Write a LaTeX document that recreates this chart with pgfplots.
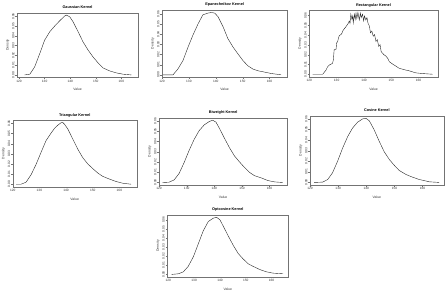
\documentclass[border=0pt]{standalone}
\usepackage{fontspec}
\setmainfont{Liberation Sans}
\usepackage{pgfplots}
\pgfplotsset{compat=1.18}

\pgfplotsset{
  kde/.style={
    scale only axis,
    axis line style={black!55, line width=0.3pt},
    tick style={black!55, line width=0.3pt},
    tick align=outside,
    major tick length=1.6pt,
    xtick pos=bottom, ytick pos=left,
    xtick={120,130,140,150,160},
    ytick={0,0.01,0.02,0.03,0.04,0.05,0.06},
    scaled y ticks=false,
    enlarge y limits=0.04,
    /pgf/number format/assume math mode=true,
    yticklabel style={/pgf/number format/.cd, fixed, fixed zerofill, precision=2, /tikz/.cd,
      rotate=90, anchor=south, font=\fontsize{3.2}{3.6}\selectfont, inner sep=0.8pt, text=black!80},
    xticklabel style={/pgf/number format/.cd, fixed, /tikz/.cd,
      font=\fontsize{3.2}{3.6}\selectfont, inner sep=0.8pt, text=black!80},
    xlabel=Value, ylabel=Density,
    label style={font=\fontsize{3.4}{4}\selectfont, text=black!80},
    xlabel style={at={(0.5,0)}, anchor=north, yshift=-7.5pt},
    ylabel style={inner sep=1.8pt},
    title style={at={(0.5,1)}, anchor=base, yshift=-2pt, font=\bfseries\fontsize{3.8}{4.4}\selectfont},
    cycle list={{black!85, line width=0.35pt}},
    no markers,
  },
}

\begin{document}
\begin{tikzpicture}
\path[use as bounding box] (0pt,0pt) rectangle (448pt,290pt);

% Gaussian kernel
\begin{axis}[kde, at={(17pt,212.7pt)}, anchor=south west, width=121pt, height=64.6pt,
  xmin=119.2, xmax=166.5, title={Gaussian Kernel}]
\addplot coordinates {
(122.2,0) (124.2,0.0007) (126.1,0.0082) (128.1,0.0219) (130.0,0.0356)
(132.0,0.0442) (133.9,0.0500) (135.9,0.0555) (137.8,0.0603) (138.5,0.0613)
(139.8,0.0596) (141.1,0.0545) (143.1,0.0442) (145.0,0.0339) (147.0,0.0254)
(148.9,0.0185) (150.9,0.0123) (152.8,0.0072) (155.4,0.0041) (158.0,0.0021)
(160.7,0.0007) (163.9,0)};
\end{axis}

% Epanechnikov kernel
\begin{axis}[kde, at={(162pt,212.7pt)}, anchor=south west, width=125.3pt, height=67.3pt,
  xmin=120, xmax=166.6, title={Epanechnikov Kernel}]
\addplot coordinates {
(120.4,0) (124.1,0) (125.9,0.0057) (127.8,0.0141) (129.7,0.0275)
(131.5,0.0392) (133.4,0.0503) (135.2,0.0593) (137.1,0.0610) (138.3,0.0616)
(139.6,0.0610) (140.8,0.0576) (142.7,0.0476) (144.5,0.0358) (146.4,0.0275)
(148.2,0.0208) (150.1,0.0141) (151.9,0.0090) (153.8,0.0057) (155.7,0.0040)
(158.1,0.0027) (160.6,0.0013) (164.3,0)};
\end{axis}

% Rectangular kernel
\begin{axis}[kde, at={(309.3pt,213.3pt)}, anchor=south west, width=128.4pt, height=66.7pt,
  xmin=120, xmax=167, title={Rectangular Kernel}]
\addplot coordinates {
(121.2,0) (124.9,0) (126.1,0.0042) (126.7,0.0076) (127.3,0.0094) (128.5,0.0111)
(128.8,0.0146) (129.1,0.0250) (129.8,0.0257) (130.0,0.0319) (130.4,0.0337)
(130.7,0.0371) (131.0,0.0396) (131.6,0.0406) (132.0,0.0423) (132.2,0.0441)
(132.8,0.0465) (133.4,0.0486) (134.0,0.0510) (134.4,0.0527) (134.6,0.0545)
(134.9,0.0521) (135.2,0.0614) (135.6,0.0562) (135.9,0.0597) (136.1,0.0527)
(136.5,0.0614) (136.8,0.0562) (137.1,0.0625) (137.4,0.0569) (137.8,0.0632)
(138.3,0.0555) (138.7,0.0625) (139.0,0.0579) (139.5,0.0614) (139.9,0.0545)
(140.2,0.0597) (140.7,0.0555) (141.1,0.0579) (141.5,0.0521) (142.0,0.0493)
(142.4,0.0423) (142.9,0.0441) (143.4,0.0389) (143.9,0.0406) (144.4,0.0337)
(144.9,0.0354) (145.4,0.0285) (145.9,0.0302) (146.3,0.0232) (146.8,0.0215)
(147.4,0.0198) (148.0,0.0187) (148.7,0.0163) (149.3,0.0128) (150.5,0.0104)
(151.7,0.0083) (153.0,0.0059) (154.1,0.0052) (155.4,0.0042) (156.6,0.0035)
(157.8,0.0024) (159.0,0.0014) (161.5,0.0007) (165.1,0)};
\end{axis}

% Triangular kernel
\begin{axis}[kde, at={(12.7pt,103.3pt)}, anchor=south west, width=124pt, height=66.7pt,
  xmin=120, xmax=166.5, title={Triangular Kernel}]
\addplot coordinates {
(121.25,0) (123.1,0) (125.0,0.0020) (126.9,0.0094) (128.75,0.0195)
(130.6,0.0313) (132.5,0.0431) (134.4,0.0506) (135.6,0.0549) (136.9,0.0583)
(138.1,0.0607) (138.75,0.0610) (139.4,0.0593) (140.6,0.0549) (142.5,0.0448)
(144.4,0.0347) (146.25,0.0263) (148.1,0.0202) (150.0,0.0155) (151.9,0.0111)
(153.75,0.0078) (156.25,0.0051) (158.75,0.0027) (161.25,0.0010) (164.4,0)};
\end{axis}

% Biweight kernel
\begin{axis}[kde, at={(159pt,105pt)}, anchor=south west, width=128.3pt, height=67.3pt,
  xmin=120, xmax=166.4, title={Biweight Kernel}]
\addplot coordinates {
(121.2,0) (123.6,0.0003) (125.5,0.0026) (127.3,0.0090) (129.1,0.0196)
(130.9,0.0315) (132.7,0.0421) (134.5,0.0507) (136.4,0.0565) (138.2,0.0597)
(139.4,0.0610) (140.6,0.0591) (141.8,0.0533) (143.6,0.0437) (145.5,0.0340)
(147.3,0.0260) (149.1,0.0202) (150.9,0.0148) (152.7,0.0100) (154.5,0.0067)
(157.0,0.0045) (159.4,0.0019) (161.8,0.0006) (164.8,0)};
\end{axis}

% Cosine kernel
\begin{axis}[kde, at={(310pt,105pt)}, anchor=south west, width=133.7pt, height=69.3pt,
  xmin=120, xmax=167.5, title={Cosine Kernel}]
\addplot coordinates {
(121.5,0) (124.5,0.0003) (126.3,0.0028) (128.0,0.0091) (129.8,0.0200)
(131.6,0.0325) (133.4,0.0434) (135.1,0.0513) (136.9,0.0569) (138.7,0.0600)
(139.9,0.0606) (141.1,0.0581) (142.8,0.0497) (144.6,0.0388) (146.4,0.0288)
(148.2,0.0216) (149.9,0.0163) (151.7,0.0113) (154.1,0.0075) (156.4,0.0050)
(158.8,0.0028) (162.4,0.0006) (165.9,0)};
\end{axis}

% Optcosine kernel
\begin{axis}[kde, at={(167.3pt,13.3pt)}, anchor=south west, width=121pt, height=61.7pt,
  xmin=119.6, xmax=166.5, title={Optcosine Kernel}]
\addplot coordinates {
(121.3,0) (123.9,0.0007) (125.8,0.0028) (127.7,0.0088) (129.7,0.0194)
(131.6,0.0335) (133.5,0.0477) (135.5,0.0582) (137.4,0.0618) (138.7,0.0628)
(140.0,0.0600) (141.3,0.0530) (143.2,0.0424) (145.2,0.0318) (147.1,0.0229)
(149.0,0.0170) (151.0,0.0116) (152.9,0.0088) (155.5,0.0053) (158.1,0.0028)
(160.6,0.0014) (164.5,0.0007)};
\end{axis}
\end{tikzpicture}
\end{document}
